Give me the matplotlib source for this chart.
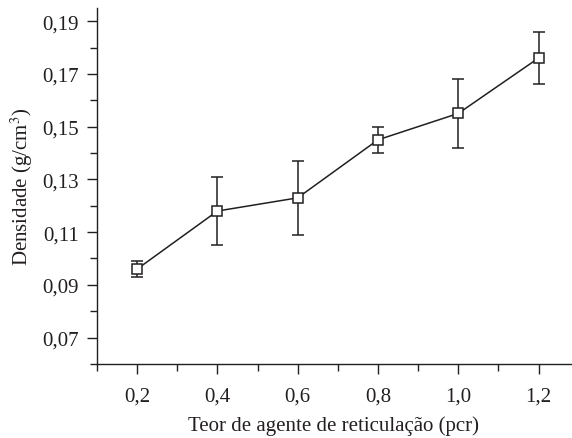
import matplotlib.pyplot as plt
from matplotlib.ticker import MultipleLocator, FuncFormatter

plt.rcParams['font.family'] = ['Liberation Serif', 'DejaVu Serif']
plt.rcParams['mathtext.fontset'] = 'stix'

# teor de agente de reticulacao (pcr)
teor = [0.2, 0.4, 0.6, 0.8, 1.0, 1.2]
densidade = [0.096, 0.118, 0.123, 0.145, 0.155, 0.176]
erro_inf = [0.003, 0.013, 0.014, 0.005, 0.013, 0.010]
erro_sup = [0.003, 0.013, 0.014, 0.005, 0.013, 0.010]

fig = plt.figure(figsize=(5.72, 4.39), dpi=100)
ax = fig.add_axes([0.1696, 0.1686, 0.828, 0.811])

ax.errorbar(teor, densidade, yerr=[erro_inf, erro_sup], color='#231f20',
            lw=1.1, elinewidth=1.1, capsize=4, capthick=1.1,
            marker='s', ms=6.5, mfc='white', mec='#231f20', mew=1.1)

ax.set_xlim(0.1, 1.28)
ax.set_ylim(0.06, 0.195)
ax.xaxis.set_major_locator(MultipleLocator(0.2))
ax.xaxis.set_minor_locator(MultipleLocator(0.1))
ax.yaxis.set_minor_locator(MultipleLocator(0.01))
ax.set_yticks([0.07, 0.09, 0.11, 0.13, 0.15, 0.17, 0.19])
ax.xaxis.set_major_formatter(FuncFormatter(lambda v, p: f'{v:.1f}'.replace('.', ',')))
ax.yaxis.set_major_formatter(FuncFormatter(lambda v, p: f'{v:.2f}'.replace('.', ',')))

for s in ['top', 'right']:
    ax.spines[s].set_visible(False)
for s in ['left', 'bottom']:
    ax.spines[s].set_color('#231f20')
    ax.spines[s].set_linewidth(1.0)

ax.tick_params(which='both', direction='out', color='#231f20', labelsize=15,
               labelcolor='#231f20')
ax.tick_params(which='major', length=7, width=1.0)
ax.tick_params(which='minor', length=5, width=1.0)
ax.tick_params(axis='x', which='major', pad=9)
ax.tick_params(axis='y', which='major', pad=6)

ax.set_xlabel('Teor de agente de reticulação (pcr)', fontsize=15, color='#231f20', labelpad=7)
ax.set_ylabel('Densidade (g/cm$^3$)', fontsize=15, color='#231f20', labelpad=5)

fig.savefig('out.png', dpi=100)
